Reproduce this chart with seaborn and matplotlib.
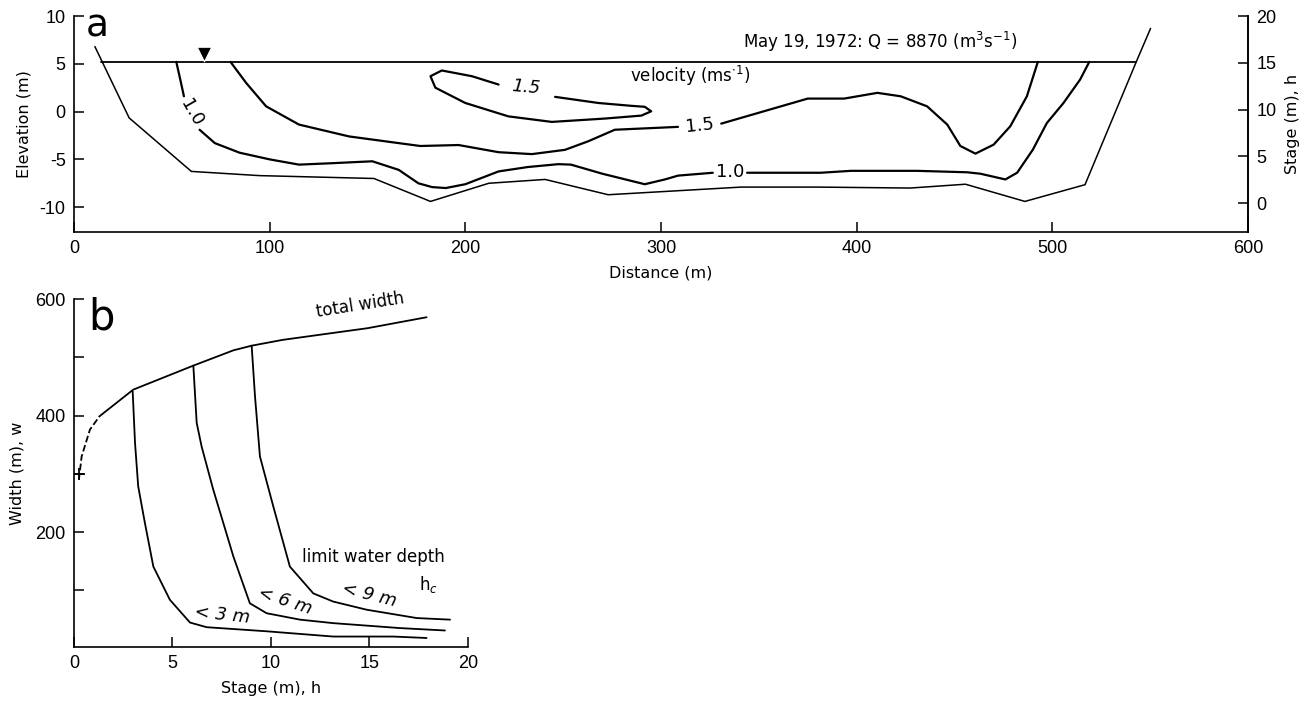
import matplotlib
matplotlib.use("Agg")
import matplotlib.pyplot as plt
import seaborn as sns
import numpy as np

sns.set_theme(style="ticks")
plt.rcParams['font.family'] = ['Liberation Sans', 'DejaVu Sans']
plt.rcParams['axes.unicode_minus'] = False
plt.rcParams['text.color'] = 'black'
plt.rcParams['axes.labelcolor'] = 'black'
plt.rcParams['xtick.color'] = 'black'
plt.rcParams['ytick.color'] = 'black'

# ---------------- Panel a data ----------------
water_x = [14, 543]
water_elev = [5.2, 5.2]

bed_x = [10.7, 28.2, 60, 94.8, 153.3, 182.2, 212, 240.8, 273, 341, 380, 427.4, 455.6, 486, 516.7, 543.4, 550.2]
bed_elev = [6.8, -0.66, -6.26, -6.7, -7.0, -9.4, -7.5, -7.1, -8.7, -7.9, -7.9, -8.0, -7.6, -9.4, -7.65, 5.45, 8.7]

# outer 1.0 m/s isovel (split where label sits)
v10a_x = [52.3, 54.5, 56.2]
v10a_elev = [5.2, 3.2, 1.6]
v10b_x = [64.2, 72, 84.6, 100, 115, 132, 152.5, 166, 176, 183, 190, 200, 217, 232, 247.6, 254, 270, 291.7, 302, 308.7, 326.5]
v10b_elev = [-1.9, -3.3, -4.3, -5.0, -5.55, -5.4, -5.2, -6.1, -7.5, -7.9, -8.0, -7.6, -6.26, -5.8, -5.5, -5.55, -6.5, -7.6, -7.1, -6.7, -6.4]
v10c_x = [344, 381.7, 397, 431, 456.4, 463.2, 476, 482, 490, 497.2, 505.7, 514.2, 518.9]
v10c_elev = [-6.4, -6.4, -6.2, -6.2, -6.35, -6.5, -7.1, -6.4, -4.0, -1.2, 0.9, 3.35, 5.2]

# 1.5 m/s isovel (split at label)
v15a_x = [80, 88, 98.2, 115, 140.6, 166, 177, 196.6, 217, 234, 251, 262.9, 276.4, 308.7]
v15a_elev = [5.2, 3.0, 0.55, -1.36, -2.6, -3.3, -3.6, -3.5, -4.25, -4.45, -4.0, -3.1, -1.9, -1.6]
v15b_x = [330.8, 375, 393.6, 410.6, 422.5, 436, 446.3, 453, 460.7, 470, 478.5, 487, 492.6]
v15b_elev = [-1.26, 1.36, 1.36, 1.96, 1.6, 0.55, -1.36, -3.6, -4.4, -3.46, -1.54, 1.6, 5.2]

# inner closed 1.5 m/s loop
loop_x = [245.9, 268, 285, 291.7, 295, 290, 271.3, 244.2, 222, 200, 184.7, 182.2, 188, 203.4, 217]
loop_elev = [1.54, 0.9, 0.6, 0.5, 0.03, -0.42, -0.73, -1.08, -0.5, 0.9, 2.5, 3.7, 4.3, 3.7, 2.83]

# ---------------- Panel b data ----------------
tw_dash_h = [0.25, 0.39, 0.81, 1.3]
tw_dash_w = [290, 330, 376, 399]
tw_h = [1.3, 3.01, 6.06, 8.09, 9.02, 10.6, 14.9, 17.9]
tw_w = [399, 444.6, 485.8, 512, 520, 530, 550, 568.8]

d3_h = [2.98, 3.1, 3.26, 3.6, 4.03, 4.87, 5.89, 6.74, 9.78, 13.16, 16.2, 17.9]
d3_w = [441.7, 353, 279, 216, 141, 84, 45, 37, 30, 21, 21, 18.5]

d6_h = [6.06, 6.23, 6.48, 7.07, 7.58, 8.09, 8.93, 9.78, 11.47, 13.16, 16.55, 18.83]
d6_w = [485.8, 387.5, 347, 273, 216, 158.5, 78, 61, 50, 44, 35.5, 31.4]

d9_h = [9.02, 9.19, 9.44, 10.12, 10.96, 12.15, 13.16, 14.86, 17.4, 19.09]
d9_w = [520, 433, 330, 244, 141, 95, 81, 67, 52.7, 50]

plus_h = [0.25]
plus_w = [299]

dist_ticks = [0, 100, 200, 300, 400, 500, 600]
elev_ticks = [-10, -5, 0, 5, 10]
stage_ticks = [0, 5, 10, 15, 20]
b_xticks = [0, 5, 10, 15, 20]
b_yticks = [100, 200, 300, 400, 500, 600]
b_ylabels = ["", "200", "", "400", "", "600"]

# ---------------- Figure ----------------
fig = plt.figure(figsize=(13.09, 7.02), dpi=100)
ax = fig.add_axes([0.0565, 0.6695, 0.8969, 0.3077])
axb = fig.add_axes([0.0565, 0.0783, 0.301, 0.4957])

K = dict(color="black", sort=False, estimator=None, legend=False)
DV = "DejaVu Sans"

def line(a, x, y, lw=1.4, ls="-"):
    sns.lineplot(x=x, y=y, ax=a, linewidth=lw, linestyle=ls, **K)

line(ax, water_x, water_elev, lw=1.3)
line(ax, bed_x, bed_elev, lw=1.1)
for xs, ys in [(v10a_x, v10a_elev), (v10b_x, v10b_elev), (v10c_x, v10c_elev),
               (v15a_x, v15a_elev), (v15b_x, v15b_elev), (loop_x, loop_elev)]:
    line(ax, xs, ys, lw=1.6)

sns.scatterplot(x=[66.4], y=[6.0], marker="v", s=110, color="black", ax=ax, legend=False, zorder=5)

ax.set_xlim(0, 600)
ax.set_ylim(-12.6, 10)
ax.set_xticks(dist_ticks)
ax.set_yticks(elev_ticks)
ax.tick_params(direction="in", length=7, width=1.1, labelsize=13, colors="black", pad=6)
ax.spines["top"].set_visible(False)
ax.spines["left"].set_bounds(-12.6, 10)
for s in ["left", "bottom", "right"]:
    ax.spines[s].set_linewidth(1.2)
    ax.spines[s].set_color("black")
ax.set_xlabel("Distance (m)", fontsize=11.5, labelpad=6, family=DV)
ax.set_ylabel("Elevation (m)", fontsize=11.5, labelpad=6, family=DV)

ax2 = ax.twinx()
ax2.set_ylim(-3.1, 20)
ax2.set_yticks(stage_ticks)
ax2.tick_params(direction="in", length=7, width=1.1, labelsize=13, colors="black", pad=6)
ax2.spines["top"].set_visible(False)
ax2.spines["left"].set_visible(False)
ax2.spines["bottom"].set_visible(False)
ax2.spines["right"].set_linewidth(1.2)
ax2.spines["right"].set_color("black")
ax2.set_ylabel("Stage (m), h", fontsize=11.5, labelpad=6, family=DV)

ax.text(12, 8.9, "a", fontsize=27, ha="center", va="center", family=DV)
ax.text(412, 7.3, "May 19, 1972: Q = 8870 (m$^3$s$^{-1}$)", fontsize=12, ha="center", va="center", family=DV)
ax.text(315, 3.7, "velocity (ms$^{\\cdot 1}$)", fontsize=12, ha="center", va="center", family=DV)
ax.text(60, -0.1, "1.0", fontsize=13, ha="center", va="center", rotation=-60, family=DV)
ax.text(231, 2.5, "1.5", fontsize=13, ha="center", va="center", style="italic", rotation=-5, family=DV)
ax.text(320, -1.45, "1.5", fontsize=13, ha="center", va="center", rotation=6, family=DV)
ax.text(335.5, -6.35, "1.0", fontsize=13, ha="center", va="center", family=DV)

# ---------------- Panel b ----------------
line(axb, tw_dash_h, tw_dash_w, lw=1.3, ls="--")
line(axb, tw_h, tw_w, lw=1.3)
line(axb, d3_h, d3_w, lw=1.3)
line(axb, d6_h, d6_w, lw=1.3)
line(axb, d9_h, d9_w, lw=1.3)
sns.scatterplot(x=plus_h, y=plus_w, marker="+", s=80, color="black", linewidth=1.3, ax=axb, legend=False)

axb.set_xlim(0, 20)
axb.set_ylim(3, 600)
axb.set_xticks(b_xticks)
axb.set_yticks(b_yticks)
axb.set_yticklabels(b_ylabels)
axb.tick_params(direction="in", length=7, width=1.1, labelsize=13, colors="black", pad=6)
axb.spines["top"].set_visible(False)
axb.spines["right"].set_visible(False)
for s in ["left", "bottom"]:
    axb.spines[s].set_linewidth(1.2)
    axb.spines[s].set_color("black")
axb.set_xlabel("Stage (m), h", fontsize=11.5, labelpad=6, family=DV)
axb.set_ylabel("Width (m), w", fontsize=11.5, labelpad=8, family=DV)

axb.text(1.37, 568, "b", fontsize=30, ha="center", va="center", family=DV)
axb.text(14.5, 590, "total width", fontsize=12, ha="center", va="center", rotation=9, family=DV)
axb.text(15.2, 157, "limit water depth", fontsize=12, ha="center", va="center", family=DV)
axb.text(18.0, 110, "h$_c$", fontsize=12, ha="center", va="center", family=DV)
axb.text(7.5, 58, "< 3 m", fontsize=13, ha="center", va="center", style="italic", rotation=-6, family=DV)
axb.text(10.7, 82, "< 6 m", fontsize=13, ha="center", va="center", style="italic", rotation=-18, family=DV)
axb.text(15.0, 93, "< 9 m", fontsize=13, ha="center", va="center", style="italic", rotation=-14, family=DV)

fig.savefig("out.png", dpi=100)
